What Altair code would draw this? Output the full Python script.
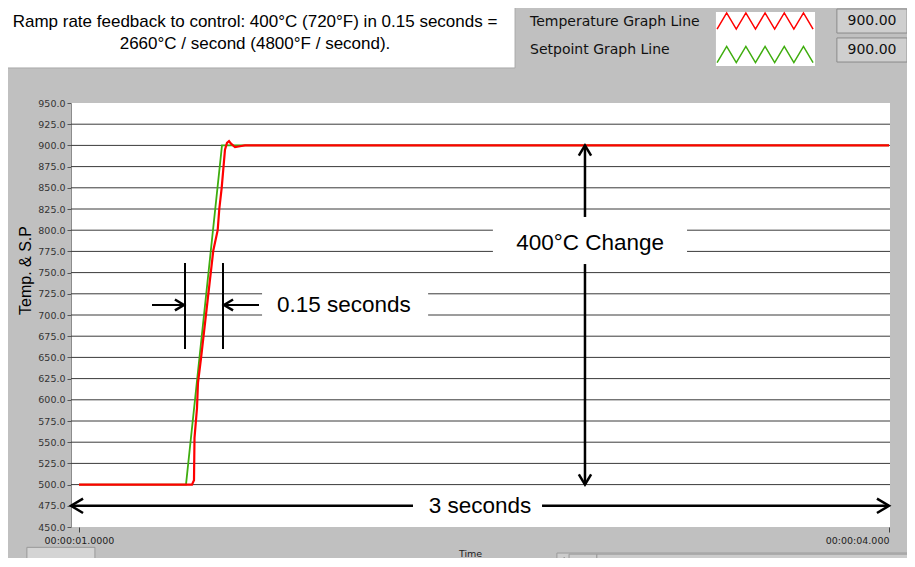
import altair as alt
import pandas as pd

# ---------------- data ----------------
# Setpoint (green) and temperature (red) traces: time in seconds, value in degC
sp_t = [1.0, 1.3963, 1.5296, 4.0]
sp_v = [500, 500, 900, 900]

temp_t = [1.0, 1.4185, 1.4241, 1.4259, 1.4278, 1.4370, 1.4407, 1.4519, 1.4974,
          1.5137, 1.5196, 1.5285, 1.5407, 1.5481, 1.5556, 1.5630, 1.5778, 1.5963,
          1.6148, 4.0]
temp_v = [500, 500, 504, 505, 555, 590, 620, 649, 776,
          800, 825, 850, 895, 903, 905, 902, 898, 899,
          900, 900]

y_ticks = [450 + 25 * i for i in range(21)]
grid_vals = [475 + 25 * i for i in range(19)]
x_tick_values = [1, 4]
x_tick_labels = ["00:00:01.0000", "00:00:04.000"]

title_lines = ["Ramp rate feedback to control: 400\u00b0C (720\u00b0F) in 0.15 seconds =",
               "2660\u00b0C / second (4800\u00b0F / second)."]
legend_names = ["Temperature Graph Line", "Setpoint Graph Line"]
legend_values = ["900.00", "900.00"]
legend_colors = ["#ff0000", "#3fad0f"]

annot_texts = ["3 seconds", "0.15 seconds", "400\u00b0C Change"]

# ---------------- annotation geometry (data units: seconds, degC) ----------------
annot_text_t = [2.485, 1.981, 2.893]
annot_text_v = [475, 711.8, 785]

# white boxes behind annotation labels
box_t = [2.237, 1.678, 2.533]
box_t2 = [2.715, 2.293, 3.252]
box_v = [490, 745, 812]
box_v2 = [460, 681, 764]

# arrow shafts & bars
shaft_t = [0.9704, 2.715, 2.874, 2.874, 1.3926, 1.5333, 1.2704, 1.5370]
shaft_t2 = [2.237, 4.0, 2.874, 2.874, 1.3926, 1.5333, 1.3889, 1.6667]
shaft_v = [475, 475, 900, 760.1, 761.3, 761.3, 711.8, 711.8]
shaft_v2 = [475, 475, 815.6, 500, 659.9, 659.9, 711.8, 711.8]
shaft_w = [2.5, 2.5, 2.5, 2.5, 2, 2, 2, 2]

RIGHT = "M-1,-0.6L0,0L-1,0.6"
LEFT = "M1,-0.6L0,0L1,0.6"
UP = "M-0.6,1L0,0L0.6,1"
DOWN = "M-0.6,-1L0,0L0.6,-1"
head_t = [0.9704, 4.0, 2.874, 2.874, 1.3889, 1.5370]
head_v = [475, 475, 900, 500, 711.8, 711.8]
head_shape = [LEFT, RIGHT, UP, DOWN, RIGHT, LEFT]
head_size = [580, 580, 420, 420, 330, 330]

# header decorations
title_box = dict(t=[0.70], t2=[2.615], v=[1090], v2=[991.3])
title_text_t = [1.6519, 1.6519]
title_text_v = [1045.5, 1019.6]
leg_text_t = [2.6704, 2.6704]
leg_text_v = [1045.5, 1012.5]
swatch_box = dict(t=[3.359], t2=[3.726], v=[1057.3], v2=[993.6])
zig_t = [3.541, 3.541]
zig_v = [1046.7, 1007.2]
num_box = dict(t=[3.807, 3.807], t2=[4.067, 4.067], v=[1060.8, 1026.7], v2=[1032.5, 998.3])
num_text_t = [3.937, 3.937]
num_text_v = [1046.7, 1012.5]

# bottom panel decorations (toolbar and scrollbar)
toolbar_box = dict(t=[0.807], t2=[1.059], v=[426.0], v2=[399.0])
scroll_box = dict(t=[2.770, 2.815, 2.918], t2=[4.08, 2.918, 4.08],
                  v=[419.3, 418.0, 418.0], v2=[399.0, 399.0, 399.0])
scroll_arrow_t = [2.789]
scroll_arrow_v = [410.5]

ZIGZAG = ("M-1,0.167L-0.8,-0.167L-0.6,0.167L-0.4,-0.167L-0.2,0.167L0,-0.167"
          "L0.2,0.167L0.4,-0.167L0.6,0.167L0.8,-0.167L1,0.167")
TRI_LEFT = "M0.6,-0.8L-0.6,0L0.6,0.8Z"

# ---------------- scales / encodings ----------------
label_expr = "".join(
    f"datum.value == {v} ? '{l}' : " for v, l in zip(x_tick_values, x_tick_labels)
) + "''"

XS = alt.Scale(domain=[0.9704, 4.0037], nice=False, zero=False)
YS = alt.Scale(domain=[450, 950], nice=False, zero=False)

x_axis = alt.Axis(values=x_tick_values, labelExpr=label_expr, grid=False, domain=False,
                  tickSize=5, tickColor="#444", labelFont="DejaVu Sans", labelFontSize=9.5,
                  labelColor="#222", labelPadding=3, title="Time", titleFont="DejaVu Sans",
                  titleFontSize=9.5, titleFontWeight="normal", titleColor="#222",
                  titleX=399, titleY=29, titleBaseline="alphabetic", titleAnchor="start",
                  titleAlign="center")
y_axis = alt.Axis(values=y_ticks, format=".1f", grid=False, domainColor="#8c8c8c",
                  tickColor="#555", tickSize=4, labelPadding=2, labelFont="DejaVu Sans",
                  labelFontSize=9.5, labelColor="#333", title="Temp. & S.P",
                  titleFont="Liberation Sans", titleFontSize=16, titleFontWeight="normal",
                  titleColor="#000", titleAngle=270, titleX=-38, titleY=167,
                  titleAlign="center", titleBaseline="bottom")

X = lambda f="t": alt.X(f"{f}:Q", scale=XS, axis=x_axis)
Y = lambda f="v": alt.Y(f"{f}:Q", scale=YS, axis=y_axis)


def rects(d, fill, stroke=None):
    df = pd.DataFrame(d)
    kw = dict(fill=fill, clip=False)
    if stroke:
        kw.update(stroke=stroke, strokeWidth=1)
    return alt.Chart(df).mark_rect(**kw).encode(x=X(), x2="t2:Q", y=Y(), y2="v2:Q")


def texts(t, v, labels, **kw):
    df = pd.DataFrame({"t": t, "v": v, "label": labels})
    return alt.Chart(df).mark_text(clip=False, **kw).encode(x=X(), y=Y(), text="label:N")


grid = alt.Chart(pd.DataFrame({"v": grid_vals})).mark_rule(
    color="#3a3a3a", strokeWidth=1).encode(y=Y())

annot_boxes = rects(dict(t=box_t, t2=box_t2, v=box_v, v2=box_v2), "white")

sp_line = alt.Chart(pd.DataFrame({"t": sp_t, "v": sp_v})).mark_line(
    color=legend_colors[1], strokeWidth=1.8, interpolate="linear").encode(x=X(), y=Y())
temp_line = alt.Chart(pd.DataFrame({"t": temp_t, "v": temp_v})).mark_line(
    color=legend_colors[0], strokeWidth=2.2, interpolate="linear").encode(x=X(), y=Y())

shafts = alt.Chart(pd.DataFrame({"t": shaft_t, "t2": shaft_t2, "v": shaft_v,
                                 "v2": shaft_v2, "w": shaft_w})).mark_rule(
    color="black", clip=False).encode(x=X(), x2="t2:Q", y=Y(), y2="v2:Q",
                                      strokeWidth=alt.StrokeWidth("w:Q", scale=None))

heads = alt.Chart(pd.DataFrame({"t": head_t, "v": head_v, "shape": head_shape,
                                "size": head_size})).mark_point(
    filled=False, color="black", strokeWidth=2.5, opacity=1, clip=False).encode(
    x=X(), y=Y(), shape=alt.Shape("shape:N", scale=None),
    size=alt.Size("size:Q", scale=None))

annot_labels = texts(annot_text_t, annot_text_v, annot_texts, font="Liberation Sans",
                     fontSize=22.5, color="black", align="center", baseline="middle")

title_bg = rects(title_box, "white", "#a8a8a8")
title_txt = texts(title_text_t, title_text_v, title_lines, font="Liberation Sans",
                  fontSize=17, color="black", align="center", baseline="middle")
leg_txt = texts(leg_text_t, leg_text_v, legend_names, font="DejaVu Sans",
                fontSize=14, color="#111", align="left", baseline="middle")
swatch_bg = rects(swatch_box, "white")
zigs = alt.Chart(pd.DataFrame({"t": zig_t, "v": zig_v, "c": legend_colors})).mark_point(
    shape=ZIGZAG, size=9216, filled=False, strokeWidth=1.5, opacity=1, clip=False).encode(
    x=X(), y=Y(), stroke=alt.Stroke("c:N", scale=None))
num_bg = rects(num_box, "#cfcfcf", "#8a8a8a")
num_txt = texts(num_text_t, num_text_v, legend_values, font="DejaVu Sans",
                fontSize=14, color="#111", align="center", baseline="middle")

toolbar_bg = rects(toolbar_box, "#d4d4d4", "#999999")
scroll_bg = rects(scroll_box, "#cccccc", "#9a9a9a")
scroll_arrow = alt.Chart(pd.DataFrame({"t": scroll_arrow_t, "v": scroll_arrow_v})).mark_point(
    shape=TRI_LEFT, size=64, filled=True, color="#222", opacity=1, clip=False).encode(
    x=X(), y=Y())

chart = alt.layer(
    title_bg, toolbar_bg, scroll_bg, scroll_arrow, grid, annot_boxes, sp_line, temp_line,
    shafts, heads, annot_labels, title_txt, leg_txt, swatch_bg, zigs, num_bg, num_txt
).properties(
    width=819, height=424,
    autosize=alt.AutoSizeParams(type="none"),
    padding={"left": 63, "top": 95, "right": 17, "bottom": 31},
    background="#c0c0c0",
).configure_view(fill="white", stroke=None)

chart.save("out.html", embed_options={"renderer": "svg", "actions": False})
